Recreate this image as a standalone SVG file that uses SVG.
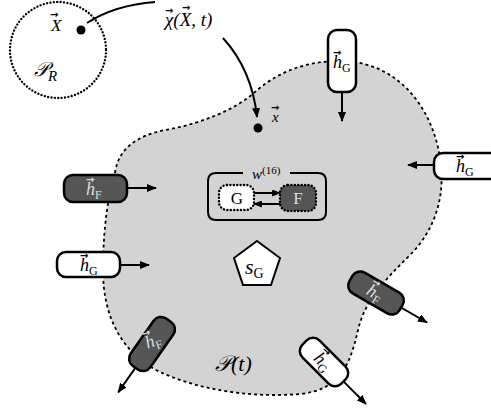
<svg xmlns="http://www.w3.org/2000/svg" width="491" height="412" viewBox="0 0 491 412">
<defs>
<style>
.t{font-family:"Liberation Serif","DejaVu Serif",serif;fill:#000}
.it{font-style:italic}
.sub{font-size:12px;font-style:normal}
.va{font-family:"DejaVu Sans","Liberation Sans",sans-serif;font-size:10px;font-style:normal;font-weight:bold}
.bx{stroke:#000;stroke-width:2.5}
.wh{fill:#fff}
.dk{fill:#555}
.lt{fill:#ddd}
.cn{stroke:#000;stroke-width:2;fill:none}
.dot{stroke-dasharray:0.01 3.4;stroke-linecap:round}
</style>
<marker id="ah" viewBox="0 0 10 8" refX="9" refY="4" markerWidth="10" markerHeight="8" markerUnits="userSpaceOnUse" orient="auto">
<path d="M0,0 L10,4 L0,8 z" fill="#000"/>
</marker>
<marker id="as" viewBox="0 0 10 8" refX="9" refY="4" markerWidth="9" markerHeight="7" markerUnits="userSpaceOnUse" orient="auto">
<path d="M0,0 L10,4 L0,8 z" fill="#000"/>
</marker>
</defs>

<g id="body">
<path d="M 115,173 C 118,150 135,136 165,130 C 200,124 235,110 255,92 C 280,70 310,60 345,61 C 400,64 435,110 441,165 C 445,205 430,235 410,255 C 385,280 365,300 358,330 C 350,365 340,390 300,394 C 250,398 200,390 160,372 C 120,352 103,315 103,270 C 103,230 108,195 115,173 Z" fill="#d3d3d3" stroke="#000" stroke-width="1.8" stroke-dasharray="3 3"/>
<text class="t it" x="215" y="371" font-size="22">𝒫(t)</text>
</g>

<g id="reference">
<circle cx="58" cy="50" r="48" fill="none" stroke="#000" stroke-width="2.4" class="dot"/>
<circle cx="81" cy="30" r="4.5" fill="#000"/>
<text class="t it" x="51" y="31" font-size="17">X</text>
<text class="va" x="50" y="18" font-size="13">→</text>
<text class="t it" x="34" y="76" font-size="20">𝒫<tspan font-size="15" dy="5">R</tspan></text>
</g>

<g id="motion-label">
<text class="t it" x="165" y="26" font-size="19">χ(X, t)</text>
<text class="va" x="165" y="14" font-size="10">→</text>
<text class="va" x="182" y="11" font-size="13">→</text>
</g>

<g id="point-x">
<circle cx="258" cy="128" r="4.5" fill="#000"/>
<text class="t it" x="272" y="122" font-size="15">x</text>
<text class="va" x="271" y="111" font-size="9">→</text>
</g>

<g id="hG-top">
<rect class="bx wh" x="328" y="30" width="28" height="62" rx="9"/>
<text class="t it" x="333" y="68" font-size="18">h<tspan class="sub" dy="4">G</tspan></text>
<text class="va" x="333" y="56">→</text>
</g>

<g id="hG-right">
<rect class="bx wh" x="434" y="153" width="66" height="26" rx="9"/>
<text class="t it" x="456" y="172" font-size="18">h<tspan class="sub" dy="4">G</tspan></text>
<text class="va" x="456" y="160">→</text>
</g>

<g id="hF-left">
<rect class="bx dk" x="64" y="175" width="63" height="27" rx="9"/>
<text class="t it lt" x="86" y="195" font-size="18">h<tspan class="sub lt" dy="4">F</tspan></text>
<text class="va lt" x="86" y="183">→</text>
</g>

<g id="hG-left">
<rect class="bx wh" x="57" y="252" width="63" height="25" rx="9"/>
<text class="t it" x="80" y="271" font-size="18">h<tspan class="sub" dy="4">G</tspan></text>
<text class="va" x="80" y="259">→</text>
</g>

<g id="hF-right" transform="translate(376,293) rotate(30)">
<rect class="bx dk" x="-29" y="-12" width="58" height="24" rx="9"/>
<text class="t it lt" x="-9" y="6" font-size="18">h<tspan class="sub lt" dy="4">F</tspan></text>
<text class="va lt" x="-9" y="-6">→</text>
</g>

<g id="hG-bottom" transform="translate(324,362) rotate(45)">
<rect class="bx wh" x="-27.5" y="-12" width="55" height="24" rx="9"/>
<text class="t it" x="-10" y="6" font-size="18">h<tspan class="sub" dy="4">G</tspan></text>
<text class="va" x="-10" y="-6">→</text>
</g>

<g id="hF-bottom-left">
<rect class="bx dk" x="-29" y="-12" width="58" height="24" rx="9" transform="translate(152,344) rotate(-55)"/>
<g transform="rotate(-20 152 344)">
<text class="t it lt" x="146" y="347" font-size="18">h<tspan class="sub lt" dy="4">F</tspan></text>
<text class="va lt" x="146" y="335">→</text>
</g>
</g>

<g id="wall">
<path d="M 243,173 H 216 Q 208,173 208,181 V 212 Q 208,220 216,220 H 318 Q 326,220 326,212 V 181 Q 326,173 318,173 H 290" fill="none" stroke="#000" stroke-width="2"/>
<text class="t it" x="252" y="179" font-size="15">w<tspan font-style="normal" font-size="11" dy="-5">(16)</tspan></text>
</g>

<g id="node-G">
<rect class="bx wh dot" x="219" y="185" width="35" height="25" rx="8"/>
<text class="t" x="237" y="204" font-size="17" text-anchor="middle">G</text>
</g>

<g id="node-F">
<rect class="bx dk dot" x="280" y="185" width="36" height="26" rx="8"/>
<text class="t lt" x="298" y="204" font-size="17" text-anchor="middle">F</text>
</g>

<g id="sG">
<polygon points="257,241 280,258 271,285 243,285 234,258" fill="#fff" stroke="#000" stroke-width="2"/>
<text class="t it" x="245" y="274" font-size="22">s<tspan font-style="normal" font-size="14" dy="4">G</tspan></text>
</g>

<g id="connectors">
<path class="cn" d="M 87,23 Q 115,5 155,2"/>
<path class="cn" d="M 223,38 Q 252,70 257,117" marker-end="url(#ah)"/>
<path class="cn" d="M 342,92 V 121" marker-end="url(#ah)"/>
<path class="cn" d="M 434,165 H 408" marker-end="url(#ah)"/>
<path class="cn" d="M 127,188 H 156" marker-end="url(#ah)"/>
<path class="cn" d="M 120,265 H 149" marker-end="url(#ah)"/>
<path class="cn" d="M 254,193 H 280" marker-end="url(#as)"/>
<path class="cn" d="M 280,204 H 254" marker-end="url(#as)"/>
<path class="cn" d="M 401,307.5 L 427,322.5" marker-end="url(#ah)"/>
<path class="cn" d="M 343.4,381.4 L 366,404" marker-end="url(#ah)"/>
<path class="cn" d="M 135.4,367.8 L 118.2,392.4" marker-end="url(#ah)"/>
</g>
</svg>
